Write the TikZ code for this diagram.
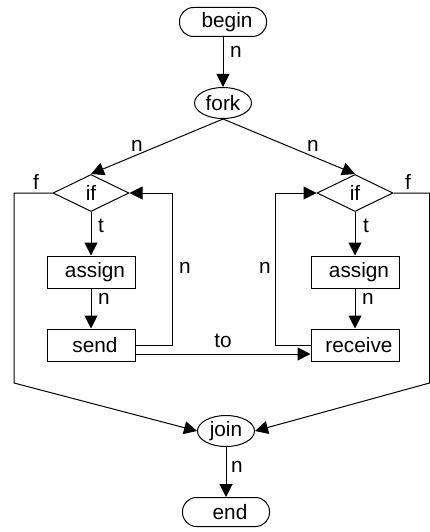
\documentclass[tikz,border=0pt]{standalone}
\usepackage{fontspec}
\setmainfont{Liberation Sans}
\usetikzlibrary{shapes.geometric,arrows.meta}
\begin{document}
\begin{tikzpicture}[x=1pt,y=-1pt,
  every node/.style={font=\fontsize{20.8}{24}\selectfont, inner sep=0pt},
  flow/.style={draw, line width=1pt, -{Triangle[length=13pt,width=13pt]}},
  plain/.style={draw, line width=1pt},
  terminal/.style={draw, line width=1pt, rectangle, rounded corners=14pt,
    minimum width=87pt, minimum height=29pt},
  stmt/.style={draw, line width=1pt, rectangle, minimum width=88pt, minimum height=32pt},
  junction/.style={draw, line width=1pt, ellipse, minimum width=57pt, minimum height=31pt},
  test/.style={draw, line width=1pt, diamond, aspect=2, minimum width=76pt, minimum height=37pt},
  lbl/.style={anchor=center}]
\useasboundingbox (0,0) rectangle (430,532);

% control nodes
\node[terminal] (begin) at (223,22) {\hspace*{8pt}begin};
\node[junction] (fork) at (223,103) {fork};
\node[test] (ifL) at (91,193) {if};
\node[test] (ifR) at (355,193) {if};
\node[stmt] (assignL) at (91,272) {\hspace*{8pt}assign};
\node[stmt] (assignR) at (355,272) {\hspace*{8pt}assign};
\node[stmt] (send) at (91,345) {\hspace*{8pt}send};
\node[stmt] (recv) at (355,345) {\hspace*{8pt}receive};
\node[junction] (join) at (226,431) {join};
\node[terminal] (end) at (226,512) {\hspace*{8pt}end};

% corner points of the false branches
\coordinate (fL1) at (14,193);
\coordinate (fL2) at (14,383);
\coordinate (fR1) at (429.5,193);
\coordinate (fR2) at (429.5,383);

% connectors
\draw[flow] (begin) -- (fork);
\draw[flow] (fork.south) -- (ifL.north);
\draw[flow] (fork.south) -- (ifR.north);
\draw[flow] (ifL) -- (assignL);
\draw[flow] (ifR) -- (assignR);
\draw[flow] (assignL) -- (send);
\draw[flow] (assignR) -- (recv);
\draw[flow] (send.east) -- ++(37,0) |- (ifL.east);
\draw[flow] (recv.west) -- ++(-35,0) |- (ifR.west);
\draw[flow] ([yshift=-9pt]send.east) -- ([yshift=-9pt]recv.west);
\draw[flow] (ifL.west) -- (fL1) -- (fL2) -- (join.west);
\draw[flow] (ifR.east) -- (fR1) -- (fR2) -- (join.east);
\draw[flow] (join) -- (end);

% edge labels
\node[lbl] (l1) at (236,52) {n};
\node[lbl] (l2) at (137,146) {n};
\node[lbl] (l3) at (313,146) {n};
\node[lbl] (l4) at (36,182) {f};
\node[lbl] (l5) at (408,182) {f};
\node[lbl] (l6) at (101,226) {t};
\node[lbl] (l7) at (366,226) {t};
\node[lbl] (l8) at (104,299) {n};
\node[lbl] (l9) at (368,299) {n};
\node[lbl] (l10) at (185,268) {n};
\node[lbl] (l11) at (265,268) {n};
\node[lbl] (l12) at (223,341) {to};
\node[lbl] (l13) at (237,467) {n};
\end{tikzpicture}
\end{document}
